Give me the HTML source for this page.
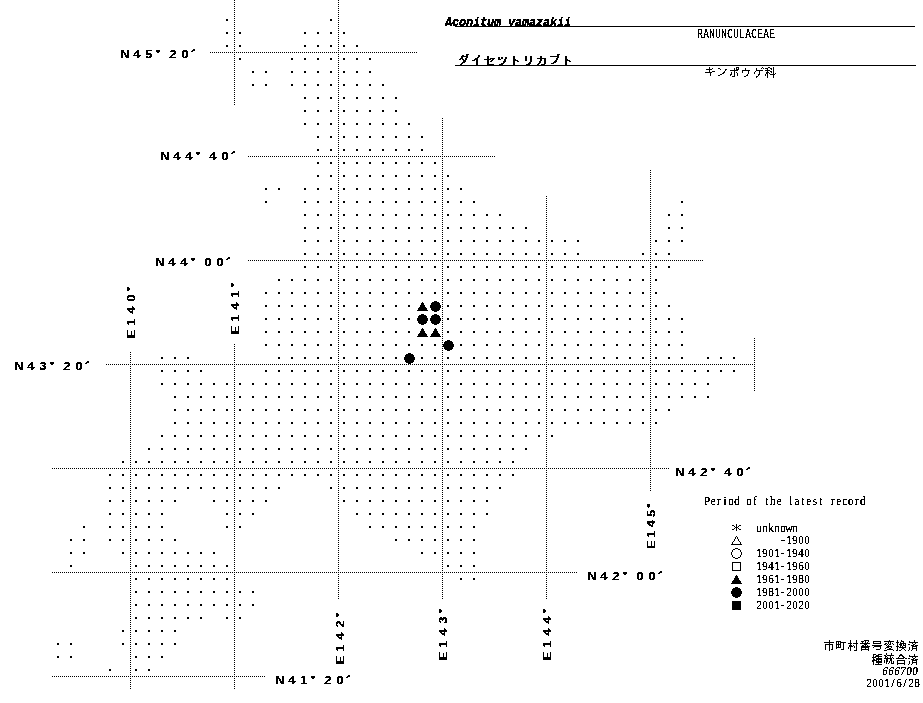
<!DOCTYPE html>
<html lang="en"><head><meta charset="utf-8"><title>Aconitum yamazakii distribution map</title>
<style>
html,body{margin:0;padding:0;background:#fff;}
body{width:923px;height:703px;position:relative;overflow:hidden;}
.t{position:absolute;white-space:nowrap;line-height:1;color:#000;}
.w{position:absolute;left:0;top:0;width:923px;height:703px;}
.b1{filter:url(#bin);}
.b2{filter:url(#bin2);}
.b3{filter:url(#bin3);}
.mono{font-family:"Liberation Mono",monospace;}
.c{display:inline-flex;justify-content:center;}
.lab{font-family:"Liberation Sans",sans-serif;font-weight:bold;}
.min{font-family:"Liberation Serif",serif;}
.got{font-family:"Liberation Sans",sans-serif;}
</style></head><body>
<svg width="0" height="0" style="position:absolute"><filter id="bin" color-interpolation-filters="sRGB"><feComponentTransfer><feFuncA type="discrete" tableValues="0 1"/></feComponentTransfer></filter><filter id="bin2" color-interpolation-filters="sRGB"><feComponentTransfer><feFuncA type="discrete" tableValues="0 1 1 1"/></feComponentTransfer></filter><filter id="bin3" color-interpolation-filters="sRGB"><feComponentTransfer><feFuncA type="discrete" tableValues="0 0 0 1 1 1 1 1 1 1"/></feComponentTransfer></filter></svg>
<svg width="923" height="703" viewBox="0 0 923 703" style="position:absolute;left:0;top:0" shape-rendering="crispEdges" aria-label="ダイセツトリカブト キンポウゲ科 市町村番号変換済 種統合済"><defs><pattern id="p" width="2" height="2" patternUnits="userSpaceOnUse"><rect width="1" height="1" fill="#000"/></pattern></defs><g fill="url(#p)"><rect x="210" y="52" width="207" height="1"/><rect x="248" y="156" width="247" height="1"/><rect x="248" y="260" width="455" height="1"/><rect x="106" y="364" width="649" height="1"/><rect x="52" y="468" width="617" height="1"/><rect x="52" y="572" width="525" height="1"/><rect x="52" y="676" width="213" height="1"/><rect x="130" y="352" width="1" height="337"/><rect x="234" y="0" width="1" height="105"/><rect x="234" y="344" width="1" height="345"/><rect x="338" y="0" width="1" height="599"/><rect x="442" y="118" width="1" height="481"/><rect x="546" y="196" width="1" height="403"/><rect x="650" y="170" width="1" height="321"/><rect x="754" y="338" width="1" height="53"/></g><path d="M226 19h2v2h-2zM330 19h2v2h-2zM226 32h2v2h-2zM239 32h2v2h-2zM304 32h2v2h-2zM317 32h2v2h-2zM330 32h2v2h-2zM343 32h2v2h-2zM226 45h2v2h-2zM239 45h2v2h-2zM304 45h2v2h-2zM317 45h2v2h-2zM330 45h2v2h-2zM343 45h2v2h-2zM356 45h2v2h-2zM239 58h2v2h-2zM291 58h2v2h-2zM304 58h2v2h-2zM317 58h2v2h-2zM330 58h2v2h-2zM343 58h2v2h-2zM356 58h2v2h-2zM369 58h2v2h-2zM252 71h2v2h-2zM265 71h2v2h-2zM291 71h2v2h-2zM304 71h2v2h-2zM317 71h2v2h-2zM330 71h2v2h-2zM343 71h2v2h-2zM356 71h2v2h-2zM369 71h2v2h-2zM252 84h2v2h-2zM265 84h2v2h-2zM291 84h2v2h-2zM304 84h2v2h-2zM317 84h2v2h-2zM330 84h2v2h-2zM343 84h2v2h-2zM356 84h2v2h-2zM369 84h2v2h-2zM382 84h2v2h-2zM304 97h2v2h-2zM317 97h2v2h-2zM330 97h2v2h-2zM343 97h2v2h-2zM356 97h2v2h-2zM369 97h2v2h-2zM382 97h2v2h-2zM395 97h2v2h-2zM304 110h2v2h-2zM317 110h2v2h-2zM330 110h2v2h-2zM343 110h2v2h-2zM356 110h2v2h-2zM369 110h2v2h-2zM382 110h2v2h-2zM395 110h2v2h-2zM304 123h2v2h-2zM317 123h2v2h-2zM330 123h2v2h-2zM343 123h2v2h-2zM356 123h2v2h-2zM369 123h2v2h-2zM382 123h2v2h-2zM395 123h2v2h-2zM408 123h2v2h-2zM317 136h2v2h-2zM330 136h2v2h-2zM343 136h2v2h-2zM356 136h2v2h-2zM369 136h2v2h-2zM382 136h2v2h-2zM395 136h2v2h-2zM408 136h2v2h-2zM421 136h2v2h-2zM317 149h2v2h-2zM330 149h2v2h-2zM343 149h2v2h-2zM356 149h2v2h-2zM369 149h2v2h-2zM382 149h2v2h-2zM395 149h2v2h-2zM408 149h2v2h-2zM421 149h2v2h-2zM317 162h2v2h-2zM330 162h2v2h-2zM343 162h2v2h-2zM356 162h2v2h-2zM369 162h2v2h-2zM382 162h2v2h-2zM395 162h2v2h-2zM408 162h2v2h-2zM421 162h2v2h-2zM434 162h2v2h-2zM317 175h2v2h-2zM330 175h2v2h-2zM343 175h2v2h-2zM356 175h2v2h-2zM369 175h2v2h-2zM382 175h2v2h-2zM395 175h2v2h-2zM408 175h2v2h-2zM421 175h2v2h-2zM434 175h2v2h-2zM447 175h2v2h-2zM265 188h2v2h-2zM278 188h2v2h-2zM304 188h2v2h-2zM317 188h2v2h-2zM330 188h2v2h-2zM343 188h2v2h-2zM356 188h2v2h-2zM369 188h2v2h-2zM382 188h2v2h-2zM395 188h2v2h-2zM408 188h2v2h-2zM421 188h2v2h-2zM434 188h2v2h-2zM447 188h2v2h-2zM460 188h2v2h-2zM265 201h2v2h-2zM304 201h2v2h-2zM317 201h2v2h-2zM330 201h2v2h-2zM343 201h2v2h-2zM356 201h2v2h-2zM369 201h2v2h-2zM382 201h2v2h-2zM395 201h2v2h-2zM408 201h2v2h-2zM421 201h2v2h-2zM434 201h2v2h-2zM447 201h2v2h-2zM460 201h2v2h-2zM473 201h2v2h-2zM681 201h2v2h-2zM304 214h2v2h-2zM317 214h2v2h-2zM330 214h2v2h-2zM343 214h2v2h-2zM356 214h2v2h-2zM369 214h2v2h-2zM382 214h2v2h-2zM395 214h2v2h-2zM408 214h2v2h-2zM421 214h2v2h-2zM434 214h2v2h-2zM447 214h2v2h-2zM460 214h2v2h-2zM473 214h2v2h-2zM486 214h2v2h-2zM499 214h2v2h-2zM668 214h2v2h-2zM681 214h2v2h-2zM304 227h2v2h-2zM317 227h2v2h-2zM330 227h2v2h-2zM343 227h2v2h-2zM356 227h2v2h-2zM369 227h2v2h-2zM382 227h2v2h-2zM395 227h2v2h-2zM408 227h2v2h-2zM421 227h2v2h-2zM434 227h2v2h-2zM447 227h2v2h-2zM460 227h2v2h-2zM473 227h2v2h-2zM486 227h2v2h-2zM499 227h2v2h-2zM512 227h2v2h-2zM525 227h2v2h-2zM668 227h2v2h-2zM681 227h2v2h-2zM304 240h2v2h-2zM317 240h2v2h-2zM330 240h2v2h-2zM343 240h2v2h-2zM356 240h2v2h-2zM369 240h2v2h-2zM382 240h2v2h-2zM395 240h2v2h-2zM408 240h2v2h-2zM421 240h2v2h-2zM434 240h2v2h-2zM447 240h2v2h-2zM460 240h2v2h-2zM473 240h2v2h-2zM486 240h2v2h-2zM499 240h2v2h-2zM512 240h2v2h-2zM525 240h2v2h-2zM538 240h2v2h-2zM551 240h2v2h-2zM564 240h2v2h-2zM577 240h2v2h-2zM655 240h2v2h-2zM668 240h2v2h-2zM681 240h2v2h-2zM304 253h2v2h-2zM317 253h2v2h-2zM330 253h2v2h-2zM343 253h2v2h-2zM356 253h2v2h-2zM369 253h2v2h-2zM382 253h2v2h-2zM395 253h2v2h-2zM408 253h2v2h-2zM421 253h2v2h-2zM434 253h2v2h-2zM447 253h2v2h-2zM460 253h2v2h-2zM473 253h2v2h-2zM486 253h2v2h-2zM499 253h2v2h-2zM512 253h2v2h-2zM525 253h2v2h-2zM538 253h2v2h-2zM551 253h2v2h-2zM564 253h2v2h-2zM577 253h2v2h-2zM642 253h2v2h-2zM655 253h2v2h-2zM668 253h2v2h-2zM304 266h2v2h-2zM317 266h2v2h-2zM330 266h2v2h-2zM343 266h2v2h-2zM356 266h2v2h-2zM369 266h2v2h-2zM382 266h2v2h-2zM395 266h2v2h-2zM408 266h2v2h-2zM421 266h2v2h-2zM434 266h2v2h-2zM447 266h2v2h-2zM460 266h2v2h-2zM473 266h2v2h-2zM486 266h2v2h-2zM499 266h2v2h-2zM512 266h2v2h-2zM525 266h2v2h-2zM538 266h2v2h-2zM551 266h2v2h-2zM564 266h2v2h-2zM577 266h2v2h-2zM590 266h2v2h-2zM603 266h2v2h-2zM616 266h2v2h-2zM629 266h2v2h-2zM642 266h2v2h-2zM655 266h2v2h-2zM668 266h2v2h-2zM278 279h2v2h-2zM291 279h2v2h-2zM304 279h2v2h-2zM317 279h2v2h-2zM330 279h2v2h-2zM343 279h2v2h-2zM356 279h2v2h-2zM369 279h2v2h-2zM382 279h2v2h-2zM395 279h2v2h-2zM408 279h2v2h-2zM421 279h2v2h-2zM434 279h2v2h-2zM447 279h2v2h-2zM460 279h2v2h-2zM473 279h2v2h-2zM486 279h2v2h-2zM499 279h2v2h-2zM512 279h2v2h-2zM525 279h2v2h-2zM538 279h2v2h-2zM551 279h2v2h-2zM564 279h2v2h-2zM577 279h2v2h-2zM590 279h2v2h-2zM603 279h2v2h-2zM616 279h2v2h-2zM629 279h2v2h-2zM642 279h2v2h-2zM655 279h2v2h-2zM265 292h2v2h-2zM278 292h2v2h-2zM291 292h2v2h-2zM304 292h2v2h-2zM317 292h2v2h-2zM330 292h2v2h-2zM343 292h2v2h-2zM356 292h2v2h-2zM369 292h2v2h-2zM382 292h2v2h-2zM395 292h2v2h-2zM408 292h2v2h-2zM421 292h2v2h-2zM434 292h2v2h-2zM447 292h2v2h-2zM460 292h2v2h-2zM473 292h2v2h-2zM486 292h2v2h-2zM499 292h2v2h-2zM512 292h2v2h-2zM525 292h2v2h-2zM538 292h2v2h-2zM551 292h2v2h-2zM564 292h2v2h-2zM577 292h2v2h-2zM590 292h2v2h-2zM603 292h2v2h-2zM616 292h2v2h-2zM629 292h2v2h-2zM642 292h2v2h-2zM655 292h2v2h-2zM265 305h2v2h-2zM278 305h2v2h-2zM291 305h2v2h-2zM304 305h2v2h-2zM317 305h2v2h-2zM330 305h2v2h-2zM343 305h2v2h-2zM356 305h2v2h-2zM369 305h2v2h-2zM382 305h2v2h-2zM395 305h2v2h-2zM408 305h2v2h-2zM421 305h2v2h-2zM434 305h2v2h-2zM447 305h2v2h-2zM460 305h2v2h-2zM473 305h2v2h-2zM486 305h2v2h-2zM499 305h2v2h-2zM512 305h2v2h-2zM525 305h2v2h-2zM538 305h2v2h-2zM551 305h2v2h-2zM564 305h2v2h-2zM577 305h2v2h-2zM590 305h2v2h-2zM603 305h2v2h-2zM616 305h2v2h-2zM629 305h2v2h-2zM642 305h2v2h-2zM655 305h2v2h-2zM668 305h2v2h-2zM265 318h2v2h-2zM278 318h2v2h-2zM291 318h2v2h-2zM304 318h2v2h-2zM317 318h2v2h-2zM330 318h2v2h-2zM343 318h2v2h-2zM356 318h2v2h-2zM369 318h2v2h-2zM382 318h2v2h-2zM395 318h2v2h-2zM408 318h2v2h-2zM421 318h2v2h-2zM434 318h2v2h-2zM447 318h2v2h-2zM460 318h2v2h-2zM473 318h2v2h-2zM486 318h2v2h-2zM499 318h2v2h-2zM512 318h2v2h-2zM525 318h2v2h-2zM538 318h2v2h-2zM551 318h2v2h-2zM564 318h2v2h-2zM577 318h2v2h-2zM590 318h2v2h-2zM603 318h2v2h-2zM616 318h2v2h-2zM629 318h2v2h-2zM642 318h2v2h-2zM655 318h2v2h-2zM668 318h2v2h-2zM681 318h2v2h-2zM265 331h2v2h-2zM278 331h2v2h-2zM291 331h2v2h-2zM304 331h2v2h-2zM317 331h2v2h-2zM330 331h2v2h-2zM343 331h2v2h-2zM356 331h2v2h-2zM369 331h2v2h-2zM382 331h2v2h-2zM395 331h2v2h-2zM408 331h2v2h-2zM421 331h2v2h-2zM434 331h2v2h-2zM447 331h2v2h-2zM460 331h2v2h-2zM473 331h2v2h-2zM486 331h2v2h-2zM499 331h2v2h-2zM512 331h2v2h-2zM525 331h2v2h-2zM538 331h2v2h-2zM551 331h2v2h-2zM564 331h2v2h-2zM577 331h2v2h-2zM590 331h2v2h-2zM603 331h2v2h-2zM616 331h2v2h-2zM629 331h2v2h-2zM642 331h2v2h-2zM655 331h2v2h-2zM668 331h2v2h-2zM681 331h2v2h-2zM265 344h2v2h-2zM278 344h2v2h-2zM291 344h2v2h-2zM304 344h2v2h-2zM317 344h2v2h-2zM330 344h2v2h-2zM343 344h2v2h-2zM356 344h2v2h-2zM369 344h2v2h-2zM382 344h2v2h-2zM395 344h2v2h-2zM408 344h2v2h-2zM421 344h2v2h-2zM434 344h2v2h-2zM447 344h2v2h-2zM460 344h2v2h-2zM473 344h2v2h-2zM486 344h2v2h-2zM499 344h2v2h-2zM512 344h2v2h-2zM525 344h2v2h-2zM538 344h2v2h-2zM551 344h2v2h-2zM564 344h2v2h-2zM577 344h2v2h-2zM590 344h2v2h-2zM603 344h2v2h-2zM616 344h2v2h-2zM629 344h2v2h-2zM642 344h2v2h-2zM655 344h2v2h-2zM668 344h2v2h-2zM681 344h2v2h-2zM161 357h2v2h-2zM174 357h2v2h-2zM187 357h2v2h-2zM278 357h2v2h-2zM291 357h2v2h-2zM304 357h2v2h-2zM317 357h2v2h-2zM330 357h2v2h-2zM343 357h2v2h-2zM356 357h2v2h-2zM369 357h2v2h-2zM382 357h2v2h-2zM395 357h2v2h-2zM408 357h2v2h-2zM421 357h2v2h-2zM434 357h2v2h-2zM447 357h2v2h-2zM460 357h2v2h-2zM473 357h2v2h-2zM486 357h2v2h-2zM499 357h2v2h-2zM512 357h2v2h-2zM525 357h2v2h-2zM538 357h2v2h-2zM551 357h2v2h-2zM564 357h2v2h-2zM577 357h2v2h-2zM590 357h2v2h-2zM603 357h2v2h-2zM616 357h2v2h-2zM629 357h2v2h-2zM642 357h2v2h-2zM655 357h2v2h-2zM668 357h2v2h-2zM681 357h2v2h-2zM707 357h2v2h-2zM720 357h2v2h-2zM733 357h2v2h-2zM161 370h2v2h-2zM174 370h2v2h-2zM187 370h2v2h-2zM200 370h2v2h-2zM265 370h2v2h-2zM278 370h2v2h-2zM291 370h2v2h-2zM304 370h2v2h-2zM317 370h2v2h-2zM330 370h2v2h-2zM343 370h2v2h-2zM356 370h2v2h-2zM369 370h2v2h-2zM382 370h2v2h-2zM395 370h2v2h-2zM408 370h2v2h-2zM421 370h2v2h-2zM434 370h2v2h-2zM447 370h2v2h-2zM460 370h2v2h-2zM473 370h2v2h-2zM486 370h2v2h-2zM499 370h2v2h-2zM512 370h2v2h-2zM525 370h2v2h-2zM538 370h2v2h-2zM551 370h2v2h-2zM564 370h2v2h-2zM577 370h2v2h-2zM590 370h2v2h-2zM603 370h2v2h-2zM616 370h2v2h-2zM629 370h2v2h-2zM642 370h2v2h-2zM655 370h2v2h-2zM668 370h2v2h-2zM681 370h2v2h-2zM694 370h2v2h-2zM707 370h2v2h-2zM720 370h2v2h-2zM733 370h2v2h-2zM161 383h2v2h-2zM174 383h2v2h-2zM187 383h2v2h-2zM200 383h2v2h-2zM213 383h2v2h-2zM226 383h2v2h-2zM239 383h2v2h-2zM252 383h2v2h-2zM265 383h2v2h-2zM278 383h2v2h-2zM291 383h2v2h-2zM304 383h2v2h-2zM317 383h2v2h-2zM330 383h2v2h-2zM343 383h2v2h-2zM356 383h2v2h-2zM369 383h2v2h-2zM382 383h2v2h-2zM395 383h2v2h-2zM408 383h2v2h-2zM421 383h2v2h-2zM434 383h2v2h-2zM447 383h2v2h-2zM460 383h2v2h-2zM473 383h2v2h-2zM486 383h2v2h-2zM499 383h2v2h-2zM512 383h2v2h-2zM525 383h2v2h-2zM538 383h2v2h-2zM551 383h2v2h-2zM564 383h2v2h-2zM577 383h2v2h-2zM590 383h2v2h-2zM603 383h2v2h-2zM616 383h2v2h-2zM629 383h2v2h-2zM642 383h2v2h-2zM655 383h2v2h-2zM668 383h2v2h-2zM681 383h2v2h-2zM694 383h2v2h-2zM707 383h2v2h-2zM174 396h2v2h-2zM187 396h2v2h-2zM200 396h2v2h-2zM213 396h2v2h-2zM226 396h2v2h-2zM239 396h2v2h-2zM252 396h2v2h-2zM265 396h2v2h-2zM278 396h2v2h-2zM291 396h2v2h-2zM304 396h2v2h-2zM317 396h2v2h-2zM330 396h2v2h-2zM343 396h2v2h-2zM356 396h2v2h-2zM369 396h2v2h-2zM382 396h2v2h-2zM395 396h2v2h-2zM408 396h2v2h-2zM421 396h2v2h-2zM434 396h2v2h-2zM447 396h2v2h-2zM460 396h2v2h-2zM473 396h2v2h-2zM486 396h2v2h-2zM499 396h2v2h-2zM512 396h2v2h-2zM525 396h2v2h-2zM538 396h2v2h-2zM551 396h2v2h-2zM564 396h2v2h-2zM577 396h2v2h-2zM590 396h2v2h-2zM603 396h2v2h-2zM616 396h2v2h-2zM629 396h2v2h-2zM642 396h2v2h-2zM655 396h2v2h-2zM668 396h2v2h-2zM681 396h2v2h-2zM694 396h2v2h-2zM707 396h2v2h-2zM174 409h2v2h-2zM187 409h2v2h-2zM200 409h2v2h-2zM213 409h2v2h-2zM226 409h2v2h-2zM239 409h2v2h-2zM252 409h2v2h-2zM265 409h2v2h-2zM278 409h2v2h-2zM291 409h2v2h-2zM304 409h2v2h-2zM317 409h2v2h-2zM330 409h2v2h-2zM343 409h2v2h-2zM356 409h2v2h-2zM369 409h2v2h-2zM382 409h2v2h-2zM395 409h2v2h-2zM408 409h2v2h-2zM421 409h2v2h-2zM434 409h2v2h-2zM447 409h2v2h-2zM460 409h2v2h-2zM473 409h2v2h-2zM486 409h2v2h-2zM499 409h2v2h-2zM512 409h2v2h-2zM525 409h2v2h-2zM538 409h2v2h-2zM551 409h2v2h-2zM564 409h2v2h-2zM577 409h2v2h-2zM590 409h2v2h-2zM603 409h2v2h-2zM616 409h2v2h-2zM629 409h2v2h-2zM642 409h2v2h-2zM655 409h2v2h-2zM668 409h2v2h-2zM174 422h2v2h-2zM187 422h2v2h-2zM200 422h2v2h-2zM213 422h2v2h-2zM226 422h2v2h-2zM239 422h2v2h-2zM252 422h2v2h-2zM265 422h2v2h-2zM278 422h2v2h-2zM291 422h2v2h-2zM304 422h2v2h-2zM317 422h2v2h-2zM330 422h2v2h-2zM343 422h2v2h-2zM356 422h2v2h-2zM369 422h2v2h-2zM382 422h2v2h-2zM395 422h2v2h-2zM408 422h2v2h-2zM421 422h2v2h-2zM434 422h2v2h-2zM447 422h2v2h-2zM460 422h2v2h-2zM473 422h2v2h-2zM486 422h2v2h-2zM499 422h2v2h-2zM512 422h2v2h-2zM525 422h2v2h-2zM538 422h2v2h-2zM551 422h2v2h-2zM564 422h2v2h-2zM577 422h2v2h-2zM590 422h2v2h-2zM603 422h2v2h-2zM616 422h2v2h-2zM629 422h2v2h-2zM642 422h2v2h-2zM655 422h2v2h-2zM161 435h2v2h-2zM174 435h2v2h-2zM187 435h2v2h-2zM200 435h2v2h-2zM213 435h2v2h-2zM226 435h2v2h-2zM239 435h2v2h-2zM252 435h2v2h-2zM265 435h2v2h-2zM278 435h2v2h-2zM291 435h2v2h-2zM304 435h2v2h-2zM317 435h2v2h-2zM330 435h2v2h-2zM343 435h2v2h-2zM356 435h2v2h-2zM369 435h2v2h-2zM382 435h2v2h-2zM395 435h2v2h-2zM408 435h2v2h-2zM421 435h2v2h-2zM434 435h2v2h-2zM447 435h2v2h-2zM460 435h2v2h-2zM473 435h2v2h-2zM486 435h2v2h-2zM499 435h2v2h-2zM512 435h2v2h-2zM525 435h2v2h-2zM538 435h2v2h-2zM551 435h2v2h-2zM148 448h2v2h-2zM161 448h2v2h-2zM174 448h2v2h-2zM187 448h2v2h-2zM200 448h2v2h-2zM213 448h2v2h-2zM226 448h2v2h-2zM239 448h2v2h-2zM252 448h2v2h-2zM265 448h2v2h-2zM278 448h2v2h-2zM291 448h2v2h-2zM304 448h2v2h-2zM317 448h2v2h-2zM330 448h2v2h-2zM343 448h2v2h-2zM356 448h2v2h-2zM369 448h2v2h-2zM382 448h2v2h-2zM395 448h2v2h-2zM408 448h2v2h-2zM421 448h2v2h-2zM434 448h2v2h-2zM447 448h2v2h-2zM460 448h2v2h-2zM473 448h2v2h-2zM486 448h2v2h-2zM499 448h2v2h-2zM512 448h2v2h-2zM525 448h2v2h-2zM122 461h2v2h-2zM135 461h2v2h-2zM148 461h2v2h-2zM161 461h2v2h-2zM174 461h2v2h-2zM187 461h2v2h-2zM200 461h2v2h-2zM213 461h2v2h-2zM226 461h2v2h-2zM239 461h2v2h-2zM252 461h2v2h-2zM265 461h2v2h-2zM278 461h2v2h-2zM291 461h2v2h-2zM304 461h2v2h-2zM317 461h2v2h-2zM330 461h2v2h-2zM343 461h2v2h-2zM356 461h2v2h-2zM369 461h2v2h-2zM382 461h2v2h-2zM395 461h2v2h-2zM408 461h2v2h-2zM421 461h2v2h-2zM434 461h2v2h-2zM447 461h2v2h-2zM460 461h2v2h-2zM473 461h2v2h-2zM486 461h2v2h-2zM499 461h2v2h-2zM512 461h2v2h-2zM109 474h2v2h-2zM122 474h2v2h-2zM135 474h2v2h-2zM148 474h2v2h-2zM161 474h2v2h-2zM174 474h2v2h-2zM187 474h2v2h-2zM200 474h2v2h-2zM213 474h2v2h-2zM226 474h2v2h-2zM239 474h2v2h-2zM252 474h2v2h-2zM265 474h2v2h-2zM278 474h2v2h-2zM291 474h2v2h-2zM304 474h2v2h-2zM317 474h2v2h-2zM330 474h2v2h-2zM343 474h2v2h-2zM356 474h2v2h-2zM369 474h2v2h-2zM382 474h2v2h-2zM395 474h2v2h-2zM408 474h2v2h-2zM421 474h2v2h-2zM434 474h2v2h-2zM447 474h2v2h-2zM460 474h2v2h-2zM473 474h2v2h-2zM486 474h2v2h-2zM499 474h2v2h-2zM512 474h2v2h-2zM109 487h2v2h-2zM122 487h2v2h-2zM135 487h2v2h-2zM148 487h2v2h-2zM161 487h2v2h-2zM174 487h2v2h-2zM187 487h2v2h-2zM200 487h2v2h-2zM213 487h2v2h-2zM226 487h2v2h-2zM239 487h2v2h-2zM252 487h2v2h-2zM265 487h2v2h-2zM278 487h2v2h-2zM330 487h2v2h-2zM343 487h2v2h-2zM356 487h2v2h-2zM369 487h2v2h-2zM382 487h2v2h-2zM395 487h2v2h-2zM408 487h2v2h-2zM421 487h2v2h-2zM434 487h2v2h-2zM447 487h2v2h-2zM460 487h2v2h-2zM473 487h2v2h-2zM486 487h2v2h-2zM499 487h2v2h-2zM109 500h2v2h-2zM122 500h2v2h-2zM135 500h2v2h-2zM148 500h2v2h-2zM161 500h2v2h-2zM174 500h2v2h-2zM213 500h2v2h-2zM226 500h2v2h-2zM239 500h2v2h-2zM252 500h2v2h-2zM265 500h2v2h-2zM343 500h2v2h-2zM356 500h2v2h-2zM369 500h2v2h-2zM382 500h2v2h-2zM395 500h2v2h-2zM408 500h2v2h-2zM421 500h2v2h-2zM434 500h2v2h-2zM447 500h2v2h-2zM460 500h2v2h-2zM473 500h2v2h-2zM486 500h2v2h-2zM109 513h2v2h-2zM122 513h2v2h-2zM135 513h2v2h-2zM148 513h2v2h-2zM161 513h2v2h-2zM226 513h2v2h-2zM239 513h2v2h-2zM252 513h2v2h-2zM356 513h2v2h-2zM369 513h2v2h-2zM382 513h2v2h-2zM395 513h2v2h-2zM408 513h2v2h-2zM421 513h2v2h-2zM434 513h2v2h-2zM447 513h2v2h-2zM460 513h2v2h-2zM473 513h2v2h-2zM486 513h2v2h-2zM83 526h2v2h-2zM109 526h2v2h-2zM122 526h2v2h-2zM135 526h2v2h-2zM148 526h2v2h-2zM161 526h2v2h-2zM226 526h2v2h-2zM239 526h2v2h-2zM369 526h2v2h-2zM382 526h2v2h-2zM395 526h2v2h-2zM408 526h2v2h-2zM421 526h2v2h-2zM434 526h2v2h-2zM447 526h2v2h-2zM460 526h2v2h-2zM473 526h2v2h-2zM70 539h2v2h-2zM83 539h2v2h-2zM109 539h2v2h-2zM122 539h2v2h-2zM135 539h2v2h-2zM148 539h2v2h-2zM161 539h2v2h-2zM174 539h2v2h-2zM395 539h2v2h-2zM408 539h2v2h-2zM421 539h2v2h-2zM434 539h2v2h-2zM447 539h2v2h-2zM460 539h2v2h-2zM473 539h2v2h-2zM70 552h2v2h-2zM83 552h2v2h-2zM122 552h2v2h-2zM135 552h2v2h-2zM148 552h2v2h-2zM161 552h2v2h-2zM174 552h2v2h-2zM187 552h2v2h-2zM200 552h2v2h-2zM213 552h2v2h-2zM421 552h2v2h-2zM434 552h2v2h-2zM447 552h2v2h-2zM460 552h2v2h-2zM473 552h2v2h-2zM70 565h2v2h-2zM135 565h2v2h-2zM148 565h2v2h-2zM161 565h2v2h-2zM174 565h2v2h-2zM187 565h2v2h-2zM200 565h2v2h-2zM213 565h2v2h-2zM226 565h2v2h-2zM447 565h2v2h-2zM460 565h2v2h-2zM473 565h2v2h-2zM135 578h2v2h-2zM148 578h2v2h-2zM161 578h2v2h-2zM174 578h2v2h-2zM187 578h2v2h-2zM200 578h2v2h-2zM213 578h2v2h-2zM226 578h2v2h-2zM460 578h2v2h-2zM473 578h2v2h-2zM135 591h2v2h-2zM148 591h2v2h-2zM161 591h2v2h-2zM174 591h2v2h-2zM187 591h2v2h-2zM200 591h2v2h-2zM213 591h2v2h-2zM226 591h2v2h-2zM239 591h2v2h-2zM252 591h2v2h-2zM135 604h2v2h-2zM148 604h2v2h-2zM161 604h2v2h-2zM174 604h2v2h-2zM187 604h2v2h-2zM200 604h2v2h-2zM213 604h2v2h-2zM226 604h2v2h-2zM239 604h2v2h-2zM252 604h2v2h-2zM135 617h2v2h-2zM148 617h2v2h-2zM161 617h2v2h-2zM174 617h2v2h-2zM187 617h2v2h-2zM200 617h2v2h-2zM226 617h2v2h-2zM239 617h2v2h-2zM122 630h2v2h-2zM135 630h2v2h-2zM148 630h2v2h-2zM161 630h2v2h-2zM174 630h2v2h-2zM57 643h2v2h-2zM70 643h2v2h-2zM122 643h2v2h-2zM135 643h2v2h-2zM148 643h2v2h-2zM161 643h2v2h-2zM174 643h2v2h-2zM57 656h2v2h-2zM70 656h2v2h-2zM135 656h2v2h-2zM148 656h2v2h-2zM161 656h2v2h-2zM109 669h2v2h-2zM135 669h2v2h-2zM148 669h2v2h-2z"/><path d="M422 302h1v1h-1zM421 303h3v1h-3zM421 304h3v1h-3zM420 305h5v1h-5zM420 306h5v1h-5zM419 307h7v1h-7zM418 308h9v1h-9zM418 309h9v1h-9zM417 310h11v1h-11zM434 301h3v1h-3zM432 302h7v1h-7zM431 303h9v1h-9zM431 304h9v1h-9zM430 305h11v1h-11zM430 306h11v1h-11zM430 307h11v1h-11zM431 308h9v1h-9zM431 309h9v1h-9zM432 310h7v1h-7zM434 311h3v1h-3zM421 314h3v1h-3zM419 315h7v1h-7zM418 316h9v1h-9zM418 317h9v1h-9zM417 318h11v1h-11zM417 319h11v1h-11zM417 320h11v1h-11zM418 321h9v1h-9zM418 322h9v1h-9zM419 323h7v1h-7zM421 324h3v1h-3zM434 314h3v1h-3zM432 315h7v1h-7zM431 316h9v1h-9zM431 317h9v1h-9zM430 318h11v1h-11zM430 319h11v1h-11zM430 320h11v1h-11zM431 321h9v1h-9zM431 322h9v1h-9zM432 323h7v1h-7zM434 324h3v1h-3zM422 328h1v1h-1zM421 329h3v1h-3zM421 330h3v1h-3zM420 331h5v1h-5zM420 332h5v1h-5zM419 333h7v1h-7zM418 334h9v1h-9zM418 335h9v1h-9zM417 336h11v1h-11zM435 328h1v1h-1zM434 329h3v1h-3zM434 330h3v1h-3zM433 331h5v1h-5zM433 332h5v1h-5zM432 333h7v1h-7zM431 334h9v1h-9zM431 335h9v1h-9zM430 336h11v1h-11zM447 340h3v1h-3zM445 341h7v1h-7zM444 342h9v1h-9zM444 343h9v1h-9zM443 344h11v1h-11zM443 345h11v1h-11zM443 346h11v1h-11zM444 347h9v1h-9zM444 348h9v1h-9zM445 349h7v1h-7zM447 350h3v1h-3zM408 353h3v1h-3zM406 354h7v1h-7zM405 355h9v1h-9zM405 356h9v1h-9zM404 357h11v1h-11zM404 358h11v1h-11zM404 359h11v1h-11zM405 360h9v1h-9zM405 361h9v1h-9zM406 362h7v1h-7zM408 363h3v1h-3z"/><path d="M736 524h1v1h-1zM732 525h2v1h-2zM736 525h1v1h-1zM739 525h2v1h-2zM734 526h1v1h-1zM736 526h1v1h-1zM738 526h1v1h-1zM735 527h3v1h-3zM734 528h1v1h-1zM736 528h1v1h-1zM738 528h1v1h-1zM732 529h2v1h-2zM736 529h1v1h-1zM739 529h2v1h-2zM736 530h1v1h-1zM736 536h1v1h-1zM735 537h1v1h-1zM737 537h1v1h-1zM735 538h1v1h-1zM737 538h1v1h-1zM734 539h1v1h-1zM738 539h1v1h-1zM734 540h1v1h-1zM738 540h1v1h-1zM733 541h1v1h-1zM739 541h1v1h-1zM732 542h1v1h-1zM740 542h1v1h-1zM732 543h1v1h-1zM740 543h1v1h-1zM731 544h11v1h-11zM735 548h3v1h-3zM733 549h2v1h-2zM738 549h2v1h-2zM732 550h1v1h-1zM740 550h1v1h-1zM732 551h1v1h-1zM740 551h1v1h-1zM731 552h1v1h-1zM741 552h1v1h-1zM731 553h1v1h-1zM741 553h1v1h-1zM731 554h1v1h-1zM741 554h1v1h-1zM732 555h1v1h-1zM740 555h1v1h-1zM732 556h1v1h-1zM740 556h1v1h-1zM733 557h2v1h-2zM738 557h2v1h-2zM735 558h3v1h-3zM732 562h9v1h-9zM732 563h1v1h-1zM740 563h1v1h-1zM732 564h1v1h-1zM740 564h1v1h-1zM732 565h1v1h-1zM740 565h1v1h-1zM732 566h1v1h-1zM740 566h1v1h-1zM732 567h1v1h-1zM740 567h1v1h-1zM732 568h1v1h-1zM740 568h1v1h-1zM732 569h1v1h-1zM740 569h1v1h-1zM732 570h9v1h-9zM736 575h1v1h-1zM735 576h3v1h-3zM735 577h3v1h-3zM734 578h5v1h-5zM734 579h5v1h-5zM733 580h7v1h-7zM732 581h9v1h-9zM732 582h9v1h-9zM731 583h11v1h-11zM735 587h3v1h-3zM733 588h7v1h-7zM732 589h9v1h-9zM732 590h9v1h-9zM731 591h11v1h-11zM731 592h11v1h-11zM731 593h11v1h-11zM732 594h9v1h-9zM732 595h9v1h-9zM733 596h7v1h-7zM735 597h3v1h-3zM732 601h9v1h-9zM732 602h9v1h-9zM732 603h9v1h-9zM732 604h9v1h-9zM732 605h9v1h-9zM732 606h9v1h-9zM732 607h9v1h-9zM732 608h9v1h-9zM732 609h9v1h-9z"/><path d="M709 67h1v1h-1zM736 67h3v1h-3zM762 67h1v1h-1zM768 67h2v1h-2zM773 67h1v1h-1zM709 68h1v1h-1zM712 68h1v1h-1zM718 68h2v1h-2zM734 68h1v1h-1zM736 68h1v1h-1zM738 68h1v1h-1zM745 68h1v1h-1zM756 68h1v1h-1zM761 68h1v1h-1zM763 68h1v1h-1zM765 68h3v1h-3zM770 68h2v1h-2zM773 68h1v1h-1zM706 69h6v1h-6zM720 69h1v1h-1zM725 69h2v1h-2zM734 69h1v1h-1zM736 69h3v1h-3zM745 69h1v1h-1zM756 69h1v1h-1zM767 69h1v1h-1zM771 69h1v1h-1zM773 69h1v1h-1zM709 70h1v1h-1zM725 70h1v1h-1zM730 70h8v1h-8zM742 70h8v1h-8zM756 70h7v1h-7zM765 70h5v1h-5zM773 70h1v1h-1zM709 71h1v1h-1zM712 71h3v1h-3zM724 71h1v1h-1zM734 71h1v1h-1zM742 71h1v1h-1zM748 71h1v1h-1zM755 71h1v1h-1zM759 71h1v1h-1zM767 71h1v1h-1zM770 71h2v1h-2zM773 71h1v1h-1zM705 72h7v1h-7zM723 72h2v1h-2zM731 72h1v1h-1zM734 72h1v1h-1zM736 72h1v1h-1zM742 72h1v1h-1zM748 72h1v1h-1zM754 72h1v1h-1zM759 72h1v1h-1zM766 72h3v1h-3zM771 72h1v1h-1zM773 72h1v1h-1zM710 73h1v1h-1zM722 73h2v1h-2zM731 73h1v1h-1zM734 73h1v1h-1zM737 73h1v1h-1zM748 73h1v1h-1zM754 73h1v1h-1zM759 73h1v1h-1zM766 73h2v1h-2zM769 73h1v1h-1zM773 73h1v1h-1zM775 73h1v1h-1zM710 74h1v1h-1zM720 74h2v1h-2zM730 74h2v1h-2zM734 74h1v1h-1zM737 74h1v1h-1zM747 74h1v1h-1zM758 74h2v1h-2zM765 74h1v1h-1zM767 74h1v1h-1zM770 74h5v1h-5zM710 75h1v1h-1zM718 75h2v1h-2zM730 75h1v1h-1zM734 75h1v1h-1zM737 75h1v1h-1zM746 75h2v1h-2zM758 75h1v1h-1zM765 75h1v1h-1zM767 75h1v1h-1zM773 75h1v1h-1zM732 76h3v1h-3zM744 76h2v1h-2zM756 76h2v1h-2zM767 76h1v1h-1zM773 76h1v1h-1zM756 77h1v1h-1zM767 77h1v1h-1zM773 77h1v1h-1zM829 640h1v1h-1zM850 640h1v1h-1zM856 640h1v1h-1zM864 640h5v1h-5zM889 640h1v1h-1zM897 640h1v1h-1zM901 640h1v1h-1zM914 640h1v1h-1zM829 641h1v1h-1zM836 641h5v1h-5zM850 641h1v1h-1zM856 641h1v1h-1zM861 641h3v1h-3zM865 641h1v1h-1zM868 641h1v1h-1zM873 641h8v1h-8zM884 641h10v1h-10zM897 641h1v1h-1zM901 641h3v1h-3zM909 641h1v1h-1zM914 641h1v1h-1zM824 642h10v1h-10zM836 642h1v1h-1zM838 642h1v1h-1zM840 642h6v1h-6zM850 642h1v1h-1zM856 642h1v1h-1zM862 642h1v1h-1zM865 642h1v1h-1zM867 642h1v1h-1zM873 642h1v1h-1zM880 642h1v1h-1zM888 642h1v1h-1zM890 642h1v1h-1zM896 642h3v1h-3zM900 642h1v1h-1zM903 642h1v1h-1zM909 642h9v1h-9zM829 643h1v1h-1zM836 643h1v1h-1zM838 643h1v1h-1zM840 643h1v1h-1zM843 643h1v1h-1zM848 643h4v1h-4zM853 643h5v1h-5zM860 643h10v1h-10zM873 643h8v1h-8zM885 643h2v1h-2zM888 643h1v1h-1zM890 643h1v1h-1zM892 643h1v1h-1zM897 643h1v1h-1zM900 643h6v1h-6zM912 643h1v1h-1zM915 643h1v1h-1zM825 644h8v1h-8zM836 644h5v1h-5zM843 644h1v1h-1zM850 644h1v1h-1zM856 644h1v1h-1zM864 644h3v1h-3zM884 644h2v1h-2zM887 644h1v1h-1zM889 644h2v1h-2zM893 644h1v1h-1zM897 644h1v1h-1zM899 644h3v1h-3zM903 644h1v1h-1zM905 644h1v1h-1zM908 644h2v1h-2zM913 644h2v1h-2zM825 645h1v1h-1zM829 645h1v1h-1zM832 645h1v1h-1zM836 645h1v1h-1zM838 645h1v1h-1zM840 645h1v1h-1zM843 645h1v1h-1zM849 645h3v1h-3zM853 645h1v1h-1zM856 645h1v1h-1zM862 645h2v1h-2zM865 645h1v1h-1zM867 645h1v1h-1zM872 645h10v1h-10zM886 645h1v1h-1zM888 645h1v1h-1zM897 645h1v1h-1zM900 645h2v1h-2zM903 645h3v1h-3zM911 645h3v1h-3zM915 645h3v1h-3zM825 646h1v1h-1zM829 646h1v1h-1zM832 646h1v1h-1zM836 646h1v1h-1zM838 646h1v1h-1zM840 646h1v1h-1zM843 646h1v1h-1zM849 646h4v1h-4zM854 646h1v1h-1zM856 646h1v1h-1zM861 646h9v1h-9zM874 646h7v1h-7zM887 646h5v1h-5zM896 646h3v1h-3zM900 646h1v1h-1zM902 646h1v1h-1zM905 646h1v1h-1zM912 646h5v1h-5zM825 647h1v1h-1zM829 647h1v1h-1zM832 647h1v1h-1zM836 647h5v1h-5zM843 647h1v1h-1zM848 647h1v1h-1zM850 647h1v1h-1zM854 647h1v1h-1zM856 647h1v1h-1zM861 647h8v1h-8zM873 647h1v1h-1zM880 647h1v1h-1zM886 647h3v1h-3zM891 647h1v1h-1zM897 647h1v1h-1zM899 647h7v1h-7zM909 647h1v1h-1zM912 647h1v1h-1zM916 647h1v1h-1zM825 648h1v1h-1zM829 648h1v1h-1zM832 648h1v1h-1zM836 648h1v1h-1zM843 648h1v1h-1zM848 648h1v1h-1zM850 648h1v1h-1zM856 648h1v1h-1zM861 648h1v1h-1zM865 648h1v1h-1zM868 648h1v1h-1zM880 648h1v1h-1zM885 648h1v1h-1zM889 648h2v1h-2zM897 648h1v1h-1zM902 648h2v1h-2zM909 648h1v1h-1zM912 648h5v1h-5zM825 649h1v1h-1zM829 649h1v1h-1zM831 649h2v1h-2zM841 649h3v1h-3zM850 649h1v1h-1zM856 649h1v1h-1zM861 649h8v1h-8zM876 649h4v1h-4zM887 649h6v1h-6zM897 649h1v1h-1zM901 649h1v1h-1zM904 649h1v1h-1zM909 649h1v1h-1zM912 649h1v1h-1zM916 649h1v1h-1zM829 650h1v1h-1zM850 650h1v1h-1zM854 650h3v1h-3zM861 650h1v1h-1zM868 650h1v1h-1zM884 650h3v1h-3zM893 650h1v1h-1zM896 650h2v1h-2zM899 650h2v1h-2zM905 650h1v1h-1zM908 650h1v1h-1zM911 650h1v1h-1zM916 650h1v1h-1zM886 653h1v1h-1zM891 653h1v1h-1zM873 654h3v1h-3zM878 654h4v1h-4zM886 654h1v1h-1zM891 654h1v1h-1zM900 654h2v1h-2zM914 654h1v1h-1zM873 655h1v1h-1zM876 655h3v1h-3zM884 655h2v1h-2zM887 655h7v1h-7zM899 655h4v1h-4zM909 655h1v1h-1zM914 655h1v1h-1zM873 656h1v1h-1zM875 656h7v1h-7zM885 656h2v1h-2zM890 656h1v1h-1zM899 656h1v1h-1zM902 656h2v1h-2zM909 656h9v1h-9zM872 657h4v1h-4zM878 657h1v1h-1zM885 657h1v1h-1zM887 657h1v1h-1zM890 657h1v1h-1zM892 657h1v1h-1zM898 657h1v1h-1zM903 657h2v1h-2zM912 657h1v1h-1zM915 657h1v1h-1zM873 658h1v1h-1zM876 658h6v1h-6zM884 658h8v1h-8zM893 658h1v1h-1zM896 658h8v1h-8zM905 658h2v1h-2zM908 658h2v1h-2zM913 658h2v1h-2zM873 659h2v1h-2zM876 659h6v1h-6zM886 659h2v1h-2zM890 659h2v1h-2zM911 659h3v1h-3zM915 659h3v1h-3zM872 660h5v1h-5zM878 660h1v1h-1zM881 660h1v1h-1zM884 660h1v1h-1zM886 660h2v1h-2zM890 660h2v1h-2zM897 660h8v1h-8zM912 660h5v1h-5zM872 661h2v1h-2zM876 661h6v1h-6zM884 661h1v1h-1zM886 661h2v1h-2zM889 661h1v1h-1zM891 661h1v1h-1zM893 661h1v1h-1zM897 661h1v1h-1zM904 661h1v1h-1zM909 661h1v1h-1zM912 661h1v1h-1zM916 661h1v1h-1zM873 662h1v1h-1zM876 662h6v1h-6zM884 662h1v1h-1zM886 662h1v1h-1zM889 662h1v1h-1zM891 662h1v1h-1zM893 662h1v1h-1zM897 662h1v1h-1zM904 662h1v1h-1zM909 662h1v1h-1zM912 662h5v1h-5zM873 663h1v1h-1zM878 663h1v1h-1zM886 663h1v1h-1zM888 663h1v1h-1zM891 663h3v1h-3zM897 663h8v1h-8zM909 663h1v1h-1zM912 663h1v1h-1zM916 663h1v1h-1zM873 664h1v1h-1zM875 664h7v1h-7zM897 664h1v1h-1zM904 664h1v1h-1zM908 664h1v1h-1zM911 664h1v1h-1zM916 664h1v1h-1zM466 54h3v1h-3zM557 54h3v1h-3zM462 55h2v1h-2zM466 55h2v1h-2zM478 55h2v1h-2zM557 55h2v1h-2zM461 56h7v1h-7zM478 56h2v1h-2zM487 56h2v1h-2zM513 56h2v1h-2zM525 56h2v1h-2zM530 56h2v1h-2zM540 56h2v1h-2zM550 56h9v1h-9zM565 56h2v1h-2zM461 57h2v1h-2zM466 57h2v1h-2zM477 57h2v1h-2zM487 57h2v1h-2zM498 57h2v1h-2zM501 57h2v1h-2zM505 57h2v1h-2zM513 57h2v1h-2zM525 57h2v1h-2zM530 57h2v1h-2zM540 57h2v1h-2zM557 57h2v1h-2zM565 57h2v1h-2zM460 58h3v1h-3zM465 58h2v1h-2zM475 58h3v1h-3zM487 58h2v1h-2zM490 58h5v1h-5zM498 58h2v1h-2zM501 58h2v1h-2zM505 58h2v1h-2zM513 58h2v1h-2zM525 58h2v1h-2zM530 58h2v1h-2zM537 58h9v1h-9zM556 58h2v1h-2zM565 58h2v1h-2zM459 59h2v1h-2zM462 59h2v1h-2zM465 59h2v1h-2zM474 59h4v1h-4zM484 59h7v1h-7zM492 59h2v1h-2zM498 59h3v1h-3zM504 59h2v1h-2zM513 59h3v1h-3zM525 59h2v1h-2zM530 59h2v1h-2zM540 59h2v1h-2zM544 59h2v1h-2zM556 59h2v1h-2zM565 59h3v1h-3zM463 60h3v1h-3zM472 60h3v1h-3zM476 60h2v1h-2zM487 60h2v1h-2zM491 60h2v1h-2zM504 60h2v1h-2zM513 60h5v1h-5zM525 60h2v1h-2zM530 60h2v1h-2zM540 60h2v1h-2zM544 60h2v1h-2zM555 60h2v1h-2zM565 60h5v1h-5zM463 61h3v1h-3zM476 61h2v1h-2zM487 61h2v1h-2zM490 61h2v1h-2zM503 61h3v1h-3zM513 61h2v1h-2zM517 61h2v1h-2zM530 61h2v1h-2zM539 61h2v1h-2zM544 61h2v1h-2zM554 61h3v1h-3zM565 61h2v1h-2zM569 61h2v1h-2zM462 62h3v1h-3zM476 62h2v1h-2zM487 62h2v1h-2zM503 62h2v1h-2zM513 62h2v1h-2zM529 62h2v1h-2zM539 62h2v1h-2zM544 62h2v1h-2zM553 62h3v1h-3zM565 62h2v1h-2zM461 63h2v1h-2zM476 63h2v1h-2zM487 63h2v1h-2zM501 63h3v1h-3zM513 63h2v1h-2zM528 63h3v1h-3zM538 63h2v1h-2zM544 63h2v1h-2zM551 63h3v1h-3zM565 63h2v1h-2zM460 64h2v1h-2zM476 64h2v1h-2zM487 64h7v1h-7zM499 64h4v1h-4zM513 64h2v1h-2zM526 64h4v1h-4zM537 64h2v1h-2zM541 64h4v1h-4zM565 64h2v1h-2z"/><rect x="455" y="26" width="460" height="1"/><rect x="455" y="65" width="461" height="1"/></svg>
<div class="w b3">
<div class="t lab" style="left:119px;top:48px;font-size:10px;transform:scaleX(1.3);transform-origin:0 0;"><span class="c" style="width:9.2308px">N</span><span class="c" style="width:9.2308px">4</span><span class="c" style="width:9.2308px">5</span><span class="c" style="width:9.2308px"><span style="position:relative;left:-2.3px;top:-3px">•</span></span><span class="c" style="width:9.2308px">2</span><span class="c" style="width:9.2308px">0</span><span class="c" style="width:9.2308px"><span style="position:relative;left:-2.8px;top:3px;font-size:15px;line-height:10px">´</span></span></div>
<div class="t lab" style="left:159px;top:150px;font-size:10px;transform:scaleX(1.3);transform-origin:0 0;"><span class="c" style="width:9.2308px">N</span><span class="c" style="width:9.2308px">4</span><span class="c" style="width:9.2308px">4</span><span class="c" style="width:9.2308px"><span style="position:relative;left:-2.3px;top:-3px">•</span></span><span class="c" style="width:9.2308px">4</span><span class="c" style="width:9.2308px">0</span><span class="c" style="width:9.2308px"><span style="position:relative;left:-2.8px;top:3px;font-size:15px;line-height:10px">´</span></span></div>
<div class="t lab" style="left:154px;top:256px;font-size:10px;transform:scaleX(1.3);transform-origin:0 0;"><span class="c" style="width:9.2308px">N</span><span class="c" style="width:9.2308px">4</span><span class="c" style="width:9.2308px">4</span><span class="c" style="width:9.2308px"><span style="position:relative;left:-2.3px;top:-3px">•</span></span><span class="c" style="width:9.2308px">0</span><span class="c" style="width:9.2308px">0</span><span class="c" style="width:9.2308px"><span style="position:relative;left:-2.8px;top:3px;font-size:15px;line-height:10px">´</span></span></div>
<div class="t lab" style="left:13px;top:360px;font-size:10px;transform:scaleX(1.3);transform-origin:0 0;"><span class="c" style="width:9.2308px">N</span><span class="c" style="width:9.2308px">4</span><span class="c" style="width:9.2308px">3</span><span class="c" style="width:9.2308px"><span style="position:relative;left:-2.3px;top:-3px">•</span></span><span class="c" style="width:9.2308px">2</span><span class="c" style="width:9.2308px">0</span><span class="c" style="width:9.2308px"><span style="position:relative;left:-2.8px;top:3px;font-size:15px;line-height:10px">´</span></span></div>
<div class="t lab" style="left:674px;top:466px;font-size:10px;transform:scaleX(1.3);transform-origin:0 0;"><span class="c" style="width:9.2308px">N</span><span class="c" style="width:9.2308px">4</span><span class="c" style="width:9.2308px">2</span><span class="c" style="width:9.2308px"><span style="position:relative;left:-2.3px;top:-3px">•</span></span><span class="c" style="width:9.2308px">4</span><span class="c" style="width:9.2308px">0</span><span class="c" style="width:9.2308px"><span style="position:relative;left:-2.8px;top:3px;font-size:15px;line-height:10px">´</span></span></div>
<div class="t lab" style="left:586px;top:570px;font-size:10px;transform:scaleX(1.3);transform-origin:0 0;"><span class="c" style="width:9.2308px">N</span><span class="c" style="width:9.2308px">4</span><span class="c" style="width:9.2308px">2</span><span class="c" style="width:9.2308px"><span style="position:relative;left:-2.3px;top:-3px">•</span></span><span class="c" style="width:9.2308px">0</span><span class="c" style="width:9.2308px">0</span><span class="c" style="width:9.2308px"><span style="position:relative;left:-2.8px;top:3px;font-size:15px;line-height:10px">´</span></span></div>
<div class="t lab" style="left:274px;top:674px;font-size:10px;transform:scaleX(1.3);transform-origin:0 0;"><span class="c" style="width:9.2308px">N</span><span class="c" style="width:9.2308px">4</span><span class="c" style="width:9.2308px">1</span><span class="c" style="width:9.2308px"><span style="position:relative;left:-2.3px;top:-3px">•</span></span><span class="c" style="width:9.2308px">2</span><span class="c" style="width:9.2308px">0</span><span class="c" style="width:9.2308px"><span style="position:relative;left:-2.8px;top:3px;font-size:15px;line-height:10px">´</span></span></div>
<div class="t lab" style="left:127px;top:340px;font-size:10px;transform:rotate(-90deg) scaleX(1.3);transform-origin:0 0;"><span class="c" style="width:9.2308px">E</span><span class="c" style="width:9.2308px">1</span><span class="c" style="width:9.2308px">4</span><span class="c" style="width:9.2308px">0</span><span class="c" style="width:9.2308px"><span style="position:relative;left:-2.3px;top:-3px">•</span></span></div>
<div class="t lab" style="left:231px;top:336px;font-size:10px;transform:rotate(-90deg) scaleX(1.3);transform-origin:0 0;"><span class="c" style="width:9.2308px">E</span><span class="c" style="width:9.2308px">1</span><span class="c" style="width:9.2308px">4</span><span class="c" style="width:9.2308px">1</span><span class="c" style="width:9.2308px"><span style="position:relative;left:-2.3px;top:-3px">•</span></span></div>
<div class="t lab" style="left:336px;top:666px;font-size:10px;transform:rotate(-90deg) scaleX(1.3);transform-origin:0 0;"><span class="c" style="width:9.2308px">E</span><span class="c" style="width:9.2308px">1</span><span class="c" style="width:9.2308px">4</span><span class="c" style="width:9.2308px">2</span><span class="c" style="width:9.2308px"><span style="position:relative;left:-2.3px;top:-3px">•</span></span></div>
<div class="t lab" style="left:439px;top:662px;font-size:10px;transform:rotate(-90deg) scaleX(1.3);transform-origin:0 0;"><span class="c" style="width:9.2308px">E</span><span class="c" style="width:9.2308px">1</span><span class="c" style="width:9.2308px">4</span><span class="c" style="width:9.2308px">3</span><span class="c" style="width:9.2308px"><span style="position:relative;left:-2.3px;top:-3px">•</span></span></div>
<div class="t lab" style="left:543px;top:662px;font-size:10px;transform:rotate(-90deg) scaleX(1.3);transform-origin:0 0;"><span class="c" style="width:9.2308px">E</span><span class="c" style="width:9.2308px">1</span><span class="c" style="width:9.2308px">4</span><span class="c" style="width:9.2308px">4</span><span class="c" style="width:9.2308px"><span style="position:relative;left:-2.3px;top:-3px">•</span></span></div>
<div class="t lab" style="left:647px;top:550px;font-size:10px;transform:rotate(-90deg) scaleX(1.3);transform-origin:0 0;"><span class="c" style="width:8.0769px">E</span><span class="c" style="width:8.0769px">1</span><span class="c" style="width:8.0769px">4</span><span class="c" style="width:8.0769px">5</span><span class="c" style="width:8.0769px"><span style="position:relative;left:-2.3px;top:-3px">•</span></span></div>
<div class="t got" style="left:697px;top:27px;font-size:13px;transform:scaleX(0.6);transform-origin:0 0;"><span class="c" style="width:10.0px">R</span><span class="c" style="width:10.0px">A</span><span class="c" style="width:10.0px">N</span><span class="c" style="width:10.0px">U</span><span class="c" style="width:10.0px">N</span><span class="c" style="width:10.0px">C</span><span class="c" style="width:10.0px">U</span><span class="c" style="width:10.0px">L</span><span class="c" style="width:10.0px">A</span><span class="c" style="width:10.0px">C</span><span class="c" style="width:10.0px">E</span><span class="c" style="width:10.0px">A</span><span class="c" style="width:10.0px">E</span></div>
<div class="t min" style="left:704px;top:494px;font-size:13px;transform:scaleX(0.85);transform-origin:0 0;"><span class="c" style="width:7.0588px">P</span><span class="c" style="width:7.0588px">e</span><span class="c" style="width:7.0588px">r</span><span class="c" style="width:7.0588px">i</span><span class="c" style="width:7.0588px">o</span><span class="c" style="width:7.0588px">d</span><span class="c" style="width:7.0588px">&nbsp;</span><span class="c" style="width:7.0588px">o</span><span class="c" style="width:7.0588px">f</span><span class="c" style="width:7.0588px">&nbsp;</span><span class="c" style="width:7.0588px">t</span><span class="c" style="width:7.0588px">h</span><span class="c" style="width:7.0588px">e</span><span class="c" style="width:7.0588px">&nbsp;</span><span class="c" style="width:7.0588px">l</span><span class="c" style="width:7.0588px">a</span><span class="c" style="width:7.0588px">t</span><span class="c" style="width:7.0588px">e</span><span class="c" style="width:7.0588px">s</span><span class="c" style="width:7.0588px">t</span><span class="c" style="width:7.0588px">&nbsp;</span><span class="c" style="width:7.0588px">r</span><span class="c" style="width:7.0588px">e</span><span class="c" style="width:7.0588px">c</span><span class="c" style="width:7.0588px">o</span><span class="c" style="width:7.0588px">r</span><span class="c" style="width:7.0588px">d</span></div>
<div class="t min" style="left:756px;top:521px;font-size:13px;transform:scaleX(0.85);transform-origin:0 0;"><span class="c" style="width:7.0588px">u</span><span class="c" style="width:7.0588px">n</span><span class="c" style="width:7.0588px">k</span><span class="c" style="width:7.0588px">n</span><span class="c" style="width:7.0588px">o</span><span class="c" style="width:7.0588px">w</span><span class="c" style="width:7.0588px">n</span></div>
<div class="t min" style="left:780px;top:533px;font-size:13px;transform:scaleX(0.85);transform-origin:0 0;"><span class="c" style="width:7.0588px">-</span><span class="c" style="width:7.0588px">1</span><span class="c" style="width:7.0588px">9</span><span class="c" style="width:7.0588px">0</span><span class="c" style="width:7.0588px">0</span></div>
<div class="t min" style="left:756px;top:546px;font-size:13px;transform:scaleX(0.85);transform-origin:0 0;"><span class="c" style="width:7.0588px">1</span><span class="c" style="width:7.0588px">9</span><span class="c" style="width:7.0588px">0</span><span class="c" style="width:7.0588px">1</span><span class="c" style="width:7.0588px">-</span><span class="c" style="width:7.0588px">1</span><span class="c" style="width:7.0588px">9</span><span class="c" style="width:7.0588px">4</span><span class="c" style="width:7.0588px">0</span></div>
<div class="t min" style="left:756px;top:559px;font-size:13px;transform:scaleX(0.85);transform-origin:0 0;"><span class="c" style="width:7.0588px">1</span><span class="c" style="width:7.0588px">9</span><span class="c" style="width:7.0588px">4</span><span class="c" style="width:7.0588px">1</span><span class="c" style="width:7.0588px">-</span><span class="c" style="width:7.0588px">1</span><span class="c" style="width:7.0588px">9</span><span class="c" style="width:7.0588px">6</span><span class="c" style="width:7.0588px">0</span></div>
<div class="t min" style="left:756px;top:572px;font-size:13px;transform:scaleX(0.85);transform-origin:0 0;"><span class="c" style="width:7.0588px">1</span><span class="c" style="width:7.0588px">9</span><span class="c" style="width:7.0588px">6</span><span class="c" style="width:7.0588px">1</span><span class="c" style="width:7.0588px">-</span><span class="c" style="width:7.0588px">1</span><span class="c" style="width:7.0588px">9</span><span class="c" style="width:7.0588px">8</span><span class="c" style="width:7.0588px">0</span></div>
<div class="t min" style="left:756px;top:585px;font-size:13px;transform:scaleX(0.85);transform-origin:0 0;"><span class="c" style="width:7.0588px">1</span><span class="c" style="width:7.0588px">9</span><span class="c" style="width:7.0588px">8</span><span class="c" style="width:7.0588px">1</span><span class="c" style="width:7.0588px">-</span><span class="c" style="width:7.0588px">2</span><span class="c" style="width:7.0588px">0</span><span class="c" style="width:7.0588px">0</span><span class="c" style="width:7.0588px">0</span></div>
<div class="t min" style="left:756px;top:598px;font-size:13px;transform:scaleX(0.85);transform-origin:0 0;"><span class="c" style="width:7.0588px">2</span><span class="c" style="width:7.0588px">0</span><span class="c" style="width:7.0588px">0</span><span class="c" style="width:7.0588px">1</span><span class="c" style="width:7.0588px">-</span><span class="c" style="width:7.0588px">2</span><span class="c" style="width:7.0588px">0</span><span class="c" style="width:7.0588px">2</span><span class="c" style="width:7.0588px">0</span></div>
<div class="t min" style="left:882px;top:664px;font-size:13px;font-style:italic;transform:scaleX(0.85);transform-origin:0 0;"><span class="c" style="width:7.0588px">6</span><span class="c" style="width:7.0588px">6</span><span class="c" style="width:7.0588px">6</span><span class="c" style="width:7.0588px">7</span><span class="c" style="width:7.0588px">0</span><span class="c" style="width:7.0588px">0</span></div>
<div class="t min" style="left:866px;top:676px;font-size:13px;transform:scaleX(0.85);transform-origin:0 0;"><span class="c" style="width:7.0588px">2</span><span class="c" style="width:7.0588px">0</span><span class="c" style="width:7.0588px">0</span><span class="c" style="width:7.0588px">1</span><span class="c" style="width:7.0588px">/</span><span class="c" style="width:7.0588px">6</span><span class="c" style="width:7.0588px">/</span><span class="c" style="width:7.0588px">2</span><span class="c" style="width:7.0588px">8</span></div>
</div>
<div class="w b2">
<div class="t mono" style="left:445px;top:17px;font-size:12px;font-weight:bold;font-style:italic;letter-spacing:-0.2px;height:9px;overflow:hidden;">Aconitum yamazakii</div>
</div>
</body></html>
